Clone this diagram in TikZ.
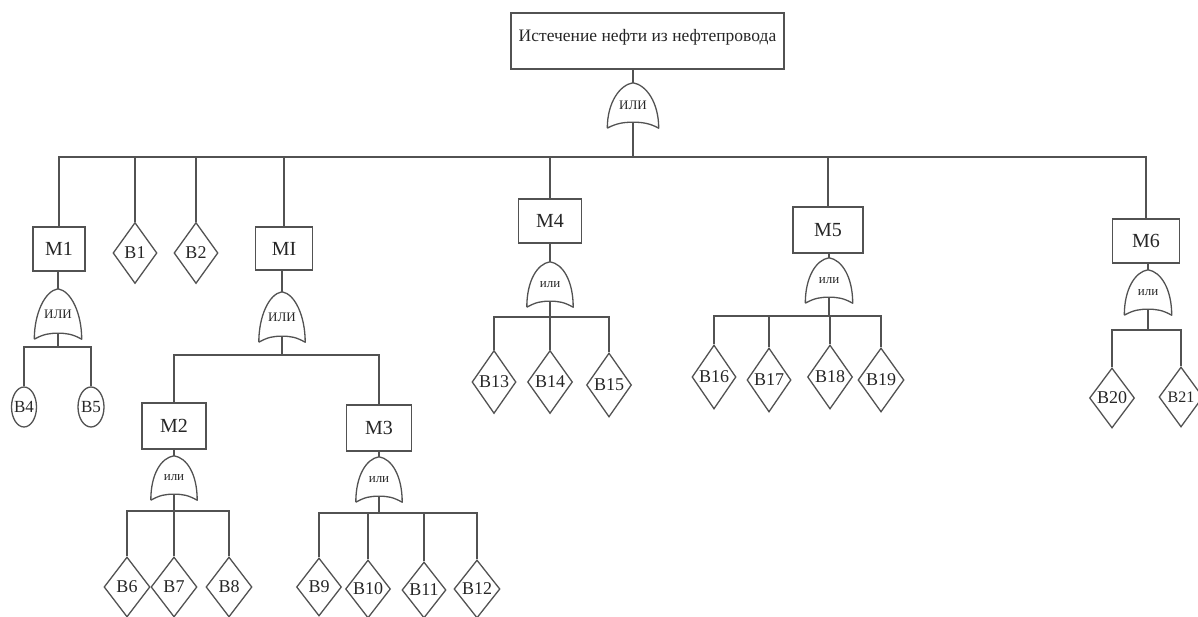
\documentclass[tikz,border=0pt]{standalone}
\usepackage{fontspec}
\setmainfont{Liberation Serif}
\usetikzlibrary{shapes.geometric,calc}
\tikzset{
  wire/.style={draw=black!68, line width=1.3pt},
  boxnode/.style={rectangle, draw=black!68, line width=1.3pt, inner sep=0pt, font=\fontsize{20}{24}\selectfont, text=black!85},
  evdiam/.style={diamond, draw=black!68, line width=1.3pt, inner sep=0pt, font=\fontsize{18}{20}\selectfont, text=black!85},
  evell/.style={ellipse, draw=black!68, line width=1.3pt, inner sep=0pt, font=\fontsize{17}{20}\selectfont, text=black!85},
  gatenode/.style={rectangle, inner sep=0pt, minimum width=46pt, minimum height=45pt, font=\fontsize{13}{14}\selectfont, text=black!85}
}
\newcommand\gateline[1]{%
  \draw[wire, line join=round] (#1.south west) .. controls +(0,26pt) and +(-13pt,-2pt) .. (#1.north)
    .. controls +(13pt,-2pt) and +(0,26pt) .. (#1.south east)
    .. controls +(-9pt,5pt) and +(9pt,0pt) .. ([yshift=6pt]#1.south)
    .. controls +(-9pt,0pt) and +(9pt,5pt) .. (#1.south west);}
\newcommand\zb[1]{\makebox[0pt]{#1}}
\begin{document}
\begin{tikzpicture}[x=1pt,y=-1pt]
\useasboundingbox (0,0) rectangle (1198,617);
\clip (0,0) rectangle (1198,617);
% top event
\node[boxnode, minimum width=273pt, text height=25pt, text depth=23pt, inner ysep=4pt, font=\fontsize{17.5}{20}\selectfont] (top) at (647.5,41) {Истечение нефти из нефтепровода};
\node[gatenode, minimum width=51pt] (g0) at (633,105.5) {ИЛИ};
\gateline{g0}
\coordinate (j0) at (633,157);
\draw[wire] (g0.north |- top.south) -- (g0.north);
\draw[wire] ([yshift=6pt]g0.south) -- (j0);
% level 1
\node[boxnode, minimum width=52pt, minimum height=44pt] (m1) at (59,249) {М1};
\node[evdiam, minimum width=44pt, minimum height=61pt] (b1) at (135,253) {\zb{В1}};
\node[evdiam, minimum width=44pt, minimum height=61pt] (b2) at (196,253) {\zb{В2}};
\node[boxnode, minimum width=57pt, minimum height=43pt] (mi) at (284,248.5) {МI};
\node[boxnode, minimum width=63pt, minimum height=44pt] (m4) at (550,221) {М4};
\node[boxnode, minimum width=70pt, minimum height=46pt] (m5) at (828,230) {М5};
\node[boxnode, minimum width=67pt, minimum height=44pt] (m6) at (1146,241) {М6};
\foreach \n in {m1,b1,b2,mi,m4,m5,m6} \draw[wire] (\n.north) |- (j0);
% M1 branch
\node[gatenode, minimum width=47pt, minimum height=50pt] (gm1) at (58,314) {ИЛИ};
\gateline{gm1}
\coordinate (j1) at (58,347);
\draw[wire] (gm1.north |- m1.south) -- (gm1.north);
\draw[wire] ([yshift=6pt]gm1.south) -- (j1);
\node[evell, minimum width=25pt, minimum height=40pt] (b4) at (24,407) {\zb{В4}};
\node[evell, minimum width=26pt, minimum height=40pt] (b5) at (91,407) {\zb{В5}};
\foreach \n in {b4,b5} \draw[wire] (\n.north) |- (j1);
% MI branch
\node[gatenode, minimum width=46pt, minimum height=50pt] (gmi) at (282,317) {ИЛИ};
\gateline{gmi}
\coordinate (j2) at (282,355);
\draw[wire] (gmi.north |- mi.south) -- (gmi.north);
\draw[wire] ([yshift=6pt]gmi.south) -- (j2);
\node[boxnode, minimum width=64pt, minimum height=46pt] (m2) at (174,426) {М2};
\node[boxnode, minimum width=65pt, minimum height=46pt] (m3) at (379,428) {М3};
\foreach \n in {m2,m3} \draw[wire] (\n.north) |- (j2);
% M2 branch
\node[gatenode, minimum height=44pt] (gm2) at (174,478) {или};
\gateline{gm2}
\coordinate (j3) at (174,511);
\draw[wire] (gm2.north |- m2.south) -- (gm2.north);
\draw[wire] ([yshift=6pt]gm2.south) -- (j3);
\node[evdiam, minimum width=46pt, minimum height=60pt] (b6) at (127,587) {\zb{В6}};
\node[evdiam, minimum width=46pt, minimum height=60pt] (b7) at (174,587) {\zb{В7}};
\node[evdiam, minimum width=46pt, minimum height=60pt] (b8) at (229,587) {\zb{В8}};
\foreach \n in {b6,b7,b8} \draw[wire] (\n.north) |- (j3);
% M3 branch
\node[gatenode] (gm3) at (379,479.5) {или};
\gateline{gm3}
\coordinate (j4) at (379,513);
\draw[wire] (gm3.north |- m3.south) -- (gm3.north);
\draw[wire] ([yshift=6pt]gm3.south) -- (j4);
\node[evdiam, minimum width=45pt, minimum height=58pt] (b9) at (319,587) {\zb{В9}};
\node[evdiam, minimum width=45pt, minimum height=58pt] (b10) at (368,589) {\zb{В10}};
\node[evdiam, minimum width=44pt, minimum height=56pt] (b11) at (424,590) {\zb{В11}};
\node[evdiam, minimum width=46pt, minimum height=58pt] (b12) at (477,589) {\zb{В12}};
\foreach \n in {b9,b10,b11,b12} \draw[wire] (\n.north) |- (j4);
% M4 branch
\node[gatenode] (gm4) at (550,284.5) {или};
\gateline{gm4}
\coordinate (j5) at (550,317);
\draw[wire] (gm4.north |- m4.south) -- (gm4.north);
\draw[wire] ([yshift=6pt]gm4.south) -- (j5);
\node[evdiam, minimum width=44pt, minimum height=63pt] (b13) at (494,382) {\zb{В13}};
\node[evdiam, minimum width=45pt, minimum height=63pt] (b14) at (550,382) {\zb{В14}};
\node[evdiam, minimum width=45pt, minimum height=64pt] (b15) at (609,385) {\zb{В15}};
\foreach \n in {b13,b14,b15} \draw[wire] (\n.north) |- (j5);
% M5 branch
\node[gatenode, minimum width=47pt] (gm5) at (829,280.5) {или};
\gateline{gm5}
\coordinate (j6) at (829,316);
\draw[wire] (gm5.north |- m5.south) -- (gm5.north);
\draw[wire] ([yshift=6pt]gm5.south) -- (j6);
\node[evdiam, minimum width=44pt, minimum height=64pt] (b16) at (714,377) {\zb{В16}};
\node[evdiam, minimum width=44pt, minimum height=64pt] (b17) at (769,380) {\zb{В17}};
\node[evdiam, minimum width=45pt, minimum height=64pt] (b18) at (830,377) {\zb{В18}};
\node[evdiam, minimum width=46pt, minimum height=64pt] (b19) at (881,380) {\zb{В19}};
\foreach \n in {b16,b17,b18,b19} \draw[wire] (\n.north) |- (j6);
% M6 branch
\node[gatenode, minimum width=47pt] (gm6) at (1148,292.5) {или};
\gateline{gm6}
\coordinate (j7) at (1148,330);
\draw[wire] (gm6.north |- m6.south) -- (gm6.north);
\draw[wire] ([yshift=6pt]gm6.south) -- (j7);
\node[evdiam, minimum width=45pt, minimum height=60pt] (b20) at (1112,398) {\zb{В20}};
\node[evdiam, minimum width=44pt, minimum height=60pt, font=\fontsize{16}{18}\selectfont] (b21) at (1181,397) {\zb{В21}};
\foreach \n in {b20,b21} \draw[wire] (\n.north) |- (j7);
\end{tikzpicture}
\end{document}
